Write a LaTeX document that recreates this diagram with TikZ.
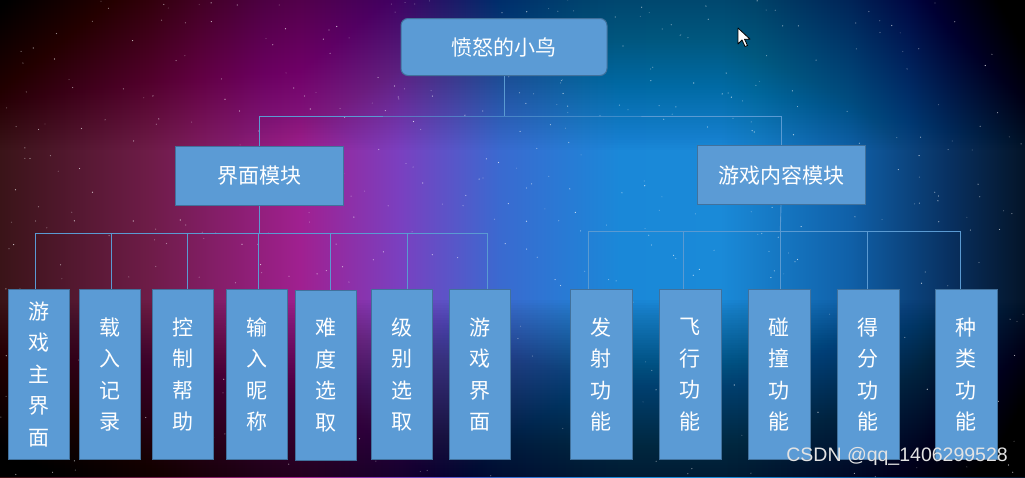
\documentclass[tikz,border=0pt]{standalone}
\usepackage{fontspec}
\setmainfont{Liberation Sans}
\newfontfamily\cjk{Noto Sans CJK SC}

\definecolor{boxblue}{HTML}{5B9BD5}
\definecolor{boxedge}{HTML}{41719C}
\definecolor{linkblue}{HTML}{5A9AD2}
\definecolor{sp0}{HTML}{3A1418}
\definecolor{sp1}{HTML}{6E1C48}
\definecolor{sp2}{HTML}{A02090}
\definecolor{sp3}{HTML}{7A40C0}
\definecolor{sp4}{HTML}{3A6AD0}
\definecolor{sp5}{HTML}{1A88D8}
\definecolor{sp6}{HTML}{1A8AD8}
\definecolor{sp7}{HTML}{1060A8}
\definecolor{sp8}{HTML}{083060}
\definecolor{sp9}{HTML}{041428}

\pgfdeclarehorizontalshading{nebula}{100bp}{color(0bp)=(sp0); color(25bp)=(sp0);
  color(32.32bp)=(sp1); color(39.63bp)=(sp2); color(44.51bp)=(sp3);
  color(49.39bp)=(sp4); color(55.24bp)=(sp5); color(60.12bp)=(sp6);
  color(66.46bp)=(sp7); color(71.34bp)=(sp8); color(75bp)=(sp9); color(100bp)=(sp9)}

\begin{document}
\begin{tikzpicture}[x=1pt,y=-1pt,
    box/.style={draw=boxedge,line width=1pt,fill=boxblue,text=white,inner sep=0pt,
      font=\cjk\fontsize{21}{31.5}\selectfont,align=center},
    leaf/.style={box,minimum width=61pt,minimum height=170pt},
    link/.style={draw=linkblue,line width=0.9pt}]
    \useasboundingbox (0,0) rectangle (1025,477);
    % background
    \shade[shading=nebula] (0,0) rectangle (1025,477);
    \foreach \k in {0,...,60}
      \fill[black,opacity=0.0084] (0,0) rectangle (1025,{150-2.5*\k});
    \foreach \k in {0,...,70}
      \fill[black,opacity=0.0147] (0,{300+2.5*\k}) rectangle (1025,477);
    \pgfmathsetseed{11}
    \foreach \i in {1,...,520}{
      \pgfmathsetmacro{\sx}{1025*rnd}
      \pgfmathsetmacro{\sy}{477*rnd}
      \pgfmathsetmacro{\so}{0.2+0.6*rnd}
      \fill[white,opacity=\so] (\sx,\sy) circle (0.6);
    }
    %
    \node[box,rounded corners=7pt,minimum width=206pt,minimum height=57pt] (bird) at (504,47) {愤怒的小鸟};
    \node[box,minimum width=168pt,minimum height=59pt] (ui) at (259,175.5) {界面模块};
    \node[box,minimum width=168pt,minimum height=59pt] (game) at (781,175) {游戏内容模块};
    %
    \foreach \x/\y/\t [count=\i] in {38.8/374.3/游\\戏\\主\\界\\面, 110/374.3/载\\入\\记\\录,
        182.8/374.3/控\\制\\帮\\助, 256.7/374.3/输\\入\\昵\\称, 326.3/375.3/难\\度\\选\\取,
        402.2/374.3/级\\别\\选\\取, 480.2/374.3/游\\戏\\界\\面}
      \node[leaf] (jm\i) at (\x,\y) {\t};
    \foreach \x/\t [count=\i] in {601.3/发\\射\\功\\能, 690/飞\\行\\功\\能, 779/碰\\撞\\功\\能,
        868/得\\分\\功\\能, 966/种\\类\\功\\能}
      \node[leaf,minimum width=62pt] (gn\i) at (\x,374.5) {\t};
    %
    \coordinate (top) at (504,116);
    \draw[link] (bird.south) -- (top);
    \draw[link] (ui.north) |- (top) -| (game.north);
    %
    \foreach \x [count=\i] in {35,111,187,258,330,407,487}
      \coordinate (ja\i) at (\x,233);
    \draw[link] (ja1) -- (ja7);
    \draw[link] (ui.south) -- (ui.south |- ja1);
    \foreach \i in {1,...,7}
      \draw[link] (ja\i) -- (ja\i |- jm\i.north);
    %
    \foreach \x [count=\i] in {588.7,683.7,780.3,867.3,960.3}
      \coordinate (gb\i) at (\x,231);
    \draw[link] (gb1) -- (gb5);
    \draw[link] (game.south) -- (gb3);
    \foreach \i in {1,...,5}
      \draw[link] (gb\i) -- (gb\i |- gn\i.north);
    %
    \draw[fill=white,line width=0.8pt,line join=round] (738,28) -- ++(0,16) -- ++(4,-4)
      -- ++(3,6.5) -- ++(2.5,-1) -- ++(-3,-6.3) -- ++(5.5,0) -- cycle;
    \node[text=white!78!gray,font=\fontsize{19.5}{19.5}\selectfont,anchor=east,inner sep=0pt]
      (mark) at (1008,456) {CSDN @qq\_1406299528};
\end{tikzpicture}
\end{document}
